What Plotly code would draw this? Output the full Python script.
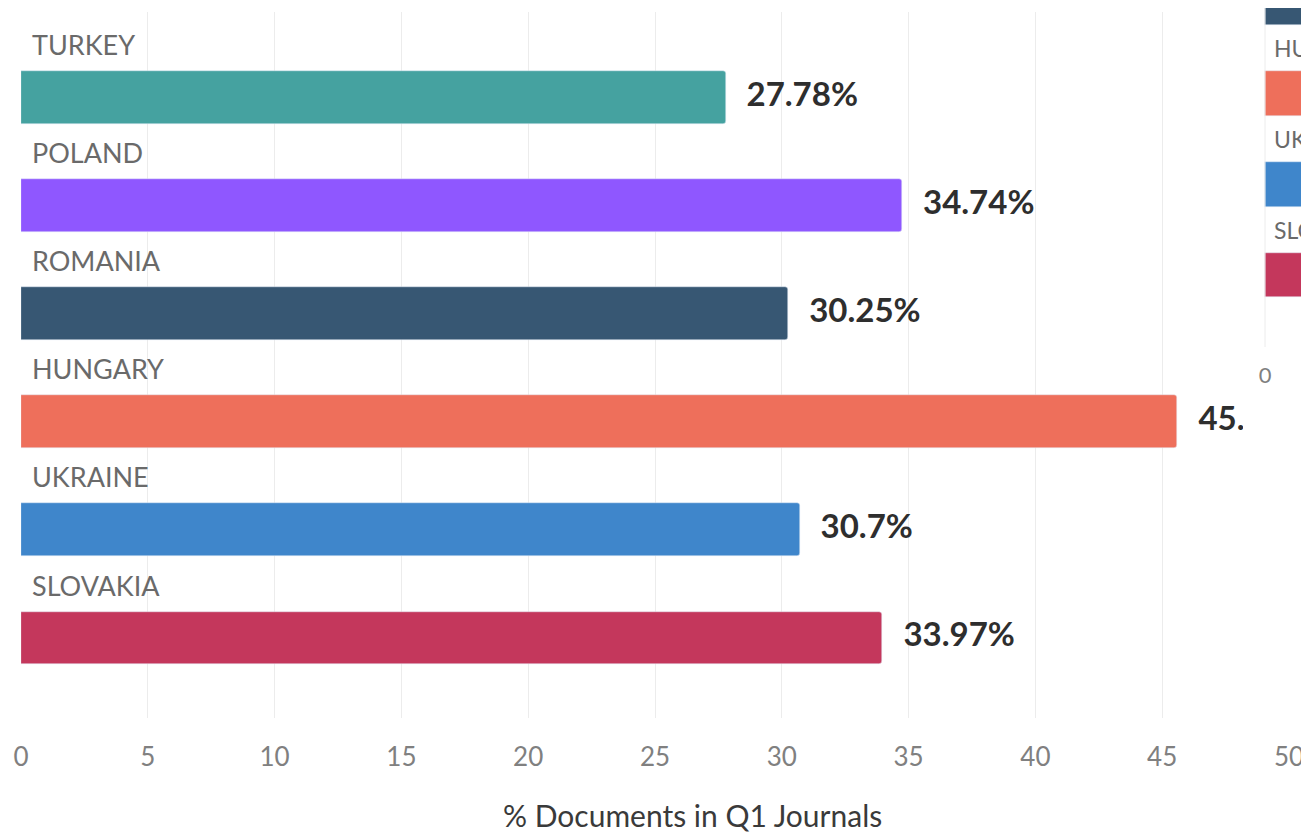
import plotly.graph_objects as go

countries = ["TURKEY", "POLAND", "ROMANIA", "HUNGARY", "UKRAINE", "SLOVAKIA"]
q1_share = [27.78, 34.74, 30.25, 45.6, 30.7, 33.97]
value_labels = ["27.78%", "34.74%", "30.25%", "45.6%", "30.7%", "33.97%"]
bar_colors = ["#45a2a0", "#8f57ff", "#375773", "#ee6f5b", "#3f86cb", "#c4375c"]
x_ticks = [0, 5, 10, 15, 20, 25, 30, 35, 40, 45, 50]

FONT = "Lato, 'Source Sans Pro', sans-serif"
rows = list(range(len(countries)))

# page puts the plot 8px in from the top-left corner, sizes below are in figure px
W, H = 1301, 824
ML, MB = 13, 114
PW, PH = W - ML, H - MB          # 1288 x 710
panel_x0 = 1235                  # zoomed panel: left edge
panel_y1 = 435                   # zoomed panel: bottom of its white background
panel_axis_y = 339               # zoomed panel: where its x axis sits

fig = go.Figure()

# main chart
fig.add_trace(go.Bar(
    x=q1_share, y=rows, orientation="h", width=0.49,
    marker=dict(color=bar_colors, cornerradius=3),
    hoverinfo="skip", xaxis="x", yaxis="y",
))
fig.add_trace(go.Scatter(
    x=q1_share, y=rows, mode="markers+text", text=value_labels,
    textposition="middle right", cliponaxis=False,
    marker=dict(size=32, color="rgba(0,0,0,0)"),
    textfont=dict(family=FONT, size=33, color="#2e2e2e", weight="bold"),
    hoverinfo="skip", xaxis="x", yaxis="y",
))

# zoomed copy peeking in at the right edge (its own white bg hides what is under it)
fig.add_trace(go.Bar(
    x=q1_share, y=rows, orientation="h", width=0.49,
    marker=dict(color=bar_colors, cornerradius=3),
    hoverinfo="skip", xaxis="x2", yaxis="y2",
))

annotations = []
for i, name in enumerate(countries):
    annotations.append(dict(
        x=0, y=i - 0.49, xref="x", yref="y", text=name, showarrow=False,
        xanchor="left", yanchor="middle", xshift=9,
        font=dict(family=FONT, size=27, color="#6a6a6a"),
    ))
    annotations.append(dict(
        x=0, y=i - 0.5, xref="x2", yref="y2", text=name, showarrow=False,
        xanchor="left", yanchor="middle", xshift=7,
        font=dict(family=FONT, size=23, color="#6a6a6a"),
    ))
annotations.append(dict(
    x=(684 - ML) / PW, y=(PH - 807) / PH, xref="paper", yref="paper",
    text="% Documents in Q1 Journals", showarrow=False,
    xanchor="center", yanchor="middle",
    font=dict(family=FONT, size=30, color="#3a3a3a"),
))

fig.update_layout(
    width=W, height=H,
    margin=dict(l=ML, r=0, t=0, b=MB, autoexpand=False),
    plot_bgcolor="white", paper_bgcolor="white",
    showlegend=False,
    bargap=0,
    xaxis=dict(
        domain=[0, 1268 / PW], range=[0, 50], tickvals=x_ticks,
        showgrid=True, gridcolor="#ececec", gridwidth=1, zeroline=False,
        showline=False, ticks="", ticklabelstandoff=21,
        tickfont=dict(family=FONT, size=26, color="#808080"),
    ),
    yaxis=dict(
        domain=[0, 706 / PH], range=[5.74, -0.79],
        showgrid=False, zeroline=False, showticklabels=False, ticks="",
    ),
    xaxis2=dict(
        domain=[(panel_x0 - ML) / PW, 1], range=[-1.033, 2.066],
        anchor="free", position=(PH - panel_axis_y) / PH,
        tickvals=x_ticks, showgrid=False, zeroline=False,
        showline=False, ticks="", ticklabelstandoff=13,
        tickfont=dict(family=FONT, size=22, color="#808080"),
    ),
    yaxis2=dict(
        domain=[(PH - panel_y1) / PH, 1], range=[6.852, 2.056], anchor="x2",
        showgrid=False, zeroline=False, showticklabels=False, ticks="",
    ),
    shapes=[dict(
        type="line", xref="x2", yref="y2 domain",
        x0=0, x1=0, y0=(panel_y1 - panel_axis_y) / panel_y1, y1=1,
        layer="above", line=dict(color="#ececec", width=1),
    )],
    annotations=annotations,
)

fig.write_html("out.html")
